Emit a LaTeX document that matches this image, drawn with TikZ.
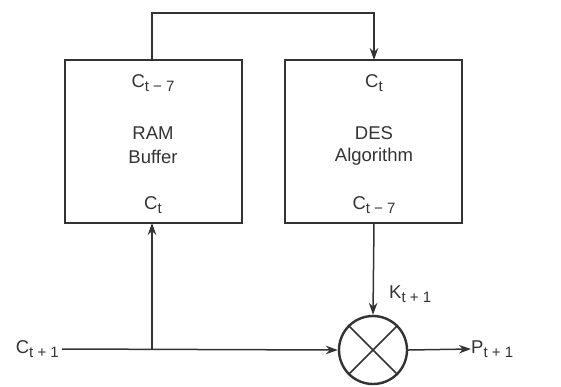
\documentclass[tikz,border=0pt]{standalone}
\usepackage{fontspec}
\setmainfont{Liberation Sans}
\usetikzlibrary{arrows.meta}
\newcommand{\sbs}[1]{\raisebox{-0.45ex}{\fontsize{15}{15}\selectfont #1}}
\begin{document}
\begin{tikzpicture}[x=1pt,y=-1pt,
  ink/.style={draw=black!80},
  blk/.style={ink, line width=2.6pt},
  wire/.style={ink, line width=1.5pt},
  arr/.style={wire, -{Stealth[length=12pt,width=8.5pt]}},
  txt/.style={text=black!80, font=\fontsize{18.5}{20}\selectfont, inner sep=0pt}]
\useasboundingbox (0,0) rectangle (561,386);
% boxes
\draw[blk] (65,60) rectangle (242,223);
\draw[blk] (285,60) rectangle (462,223);
\coordinate (ramtop) at (152,60);
\coordinate (ramin) at (152,223);
\coordinate (destop) at (374,60);
\coordinate (desout) at (374,223);
\node[txt] (r1) at (153,83) {C\sbs{t − 7}};
\node[txt] (r2) at (153,133) {RAM};
\node[txt] (r3) at (153,157) {Buffer};
\node[txt] (r4) at (153,205) {C\sbs{t}};
\node[txt] (d1) at (374,83) {C\sbs{t}};
\node[txt] (d2) at (374,133) {DES};
\node[txt] (d3) at (374,157) {Algorithm};
\node[txt] (d4) at (374,205) {C\sbs{t − 7}};
% xor
\node[circle, draw=black!80, line width=2.4pt, minimum size=68pt, inner sep=0pt] (x) at (373,350) {};
\draw[wire] (x.north west) -- (x.south east);
\draw[wire] (x.north east) -- (x.south west);
% inputs/outputs
\node[txt, anchor=east] (cin) at (59,349) {C\sbs{t + 1}};
\node[txt, anchor=west] (pout) at (471,349) {P\sbs{t + 1}};
\node[txt, anchor=west] (k) at (389,294) {K\sbs{t + 1}};
\coordinate (br) at (152,349);
% connectors
\draw[arr] (ramtop) -- (152,13) -- (374,13) -- (destop);
\draw[arr] (cin.east) ++(3,0) -- (x.west);
\draw[arr] (br) -- (ramin);
\draw[arr] (desout) -- (x.north);
\draw[arr] (x.east) -- (pout.west);
\end{tikzpicture}
\end{document}
